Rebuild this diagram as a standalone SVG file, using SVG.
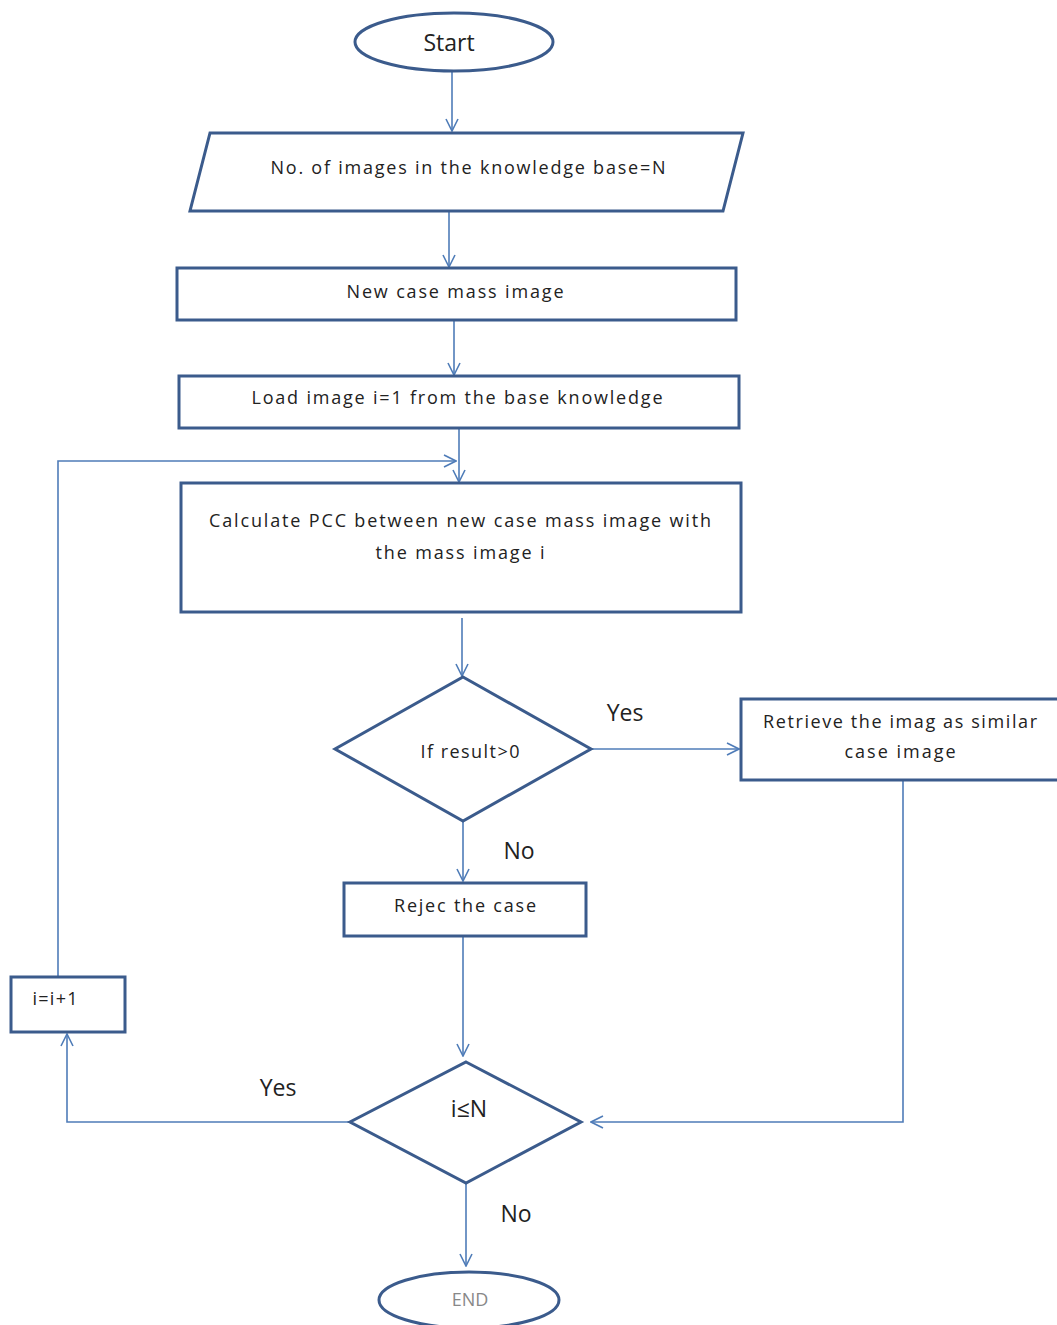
<svg xmlns="http://www.w3.org/2000/svg" width="1057" height="1325" viewBox="0 0 1057 1325">
<defs>
<style>
.shape{fill:#fff;stroke:#3b5b8c;stroke-width:3}
.conn{fill:none;stroke:#4f7cb8;stroke-width:1.6}
.t{font-family:"Open Sans","Liberation Sans",sans-serif;font-size:18px;fill:#222;text-anchor:middle}
.lbl{font-family:"Open Sans","Liberation Sans",sans-serif;font-size:23px;fill:#222;text-anchor:middle}
</style>
<marker id="arr" viewBox="0 0 14 14" refX="13" refY="7" markerWidth="14" markerHeight="14" markerUnits="userSpaceOnUse" orient="auto">
<path d="M1,1 L13,7 L1,13" fill="none" stroke="#4f7cb8" stroke-width="1.6"/>
</marker>
</defs>
<rect width="1057" height="1325" fill="#fff"/>
<g id="connectors">
<line class="conn" x1="452" y1="72" x2="452" y2="131" marker-end="url(#arr)"/>
<line class="conn" x1="449" y1="212" x2="449" y2="267" marker-end="url(#arr)"/>
<line class="conn" x1="454" y1="321" x2="454" y2="375" marker-end="url(#arr)"/>
<line class="conn" x1="459" y1="429" x2="459" y2="482" marker-end="url(#arr)"/>
<polyline class="conn" points="58,977 58,461 456,461" marker-end="url(#arr)"/>
<line class="conn" x1="462" y1="618" x2="462" y2="676" marker-end="url(#arr)"/>
<line class="conn" x1="591" y1="749" x2="739" y2="749" marker-end="url(#arr)"/>
<polyline class="conn" points="903,781 903,1122 591,1122" marker-end="url(#arr)"/>
<line class="conn" x1="463" y1="822" x2="463" y2="881" marker-end="url(#arr)"/>
<line class="conn" x1="463" y1="937" x2="463" y2="1056" marker-end="url(#arr)"/>
<polyline class="conn" points="350,1122 67,1122 67,1034" marker-end="url(#arr)"/>
<line class="conn" x1="466" y1="1184" x2="466" y2="1266" marker-end="url(#arr)"/>
</g>
<g id="start">
<ellipse class="shape" cx="454" cy="42" rx="99" ry="29"/>
<text class="lbl" x="449" y="51">Start</text>
</g>
<g id="input">
<polygon class="shape" points="210,133 743,133 723,211 190,211"/>
<text class="t" x="468" y="174" textLength="395" lengthAdjust="spacing">No. of images in the  knowledge base=N</text>
</g>
<g id="newcase">
<rect class="shape" x="177" y="268" width="559" height="52"/>
<text class="t" x="455" y="298" textLength="217" lengthAdjust="spacing">New case mass image</text>
</g>
<g id="load">
<rect class="shape" x="179" y="376" width="560" height="52"/>
<text class="t" x="457" y="404" textLength="411" lengthAdjust="spacing">Load image i=1 from the base knowledge</text>
</g>
<g id="calc">
<rect class="shape" x="181" y="483" width="560" height="129"/>
<text class="t" x="460" y="527" textLength="502" lengthAdjust="spacing">Calculate  PCC  between  new case mass image  with</text>
<text class="t" x="460" y="559" textLength="169" lengthAdjust="spacing">the mass image i</text>
</g>
<g id="decision1">
<polygon class="shape" points="463,677 591,749 463,821 335,749"/>
<text class="t" x="470" y="758" textLength="99" lengthAdjust="spacing">If result&gt;0</text>
</g>
<g id="retrieve">
<rect class="shape" x="741" y="699" width="320" height="81"/>
<text class="t" x="900" y="728" textLength="274" lengthAdjust="spacing">Retrieve the imag as similar</text>
<text class="t" x="900" y="758" textLength="111" lengthAdjust="spacing">case image</text>
</g>
<g id="reject">
<rect class="shape" x="344" y="883" width="242" height="53"/>
<text class="t" x="465" y="912" textLength="142" lengthAdjust="spacing">Rejec  the case</text>
</g>
<g id="decision2">
<polygon class="shape" points="466,1062 581,1122 466,1183 350,1122"/>
<text class="lbl" x="469" y="1117">i≤N</text>
</g>
<g id="incr">
<rect class="shape" x="11" y="977" width="114" height="55"/>
<text class="t" x="55" y="1005" textLength="45" lengthAdjust="spacing">i=i+1</text>
</g>
<g id="end">
<ellipse class="shape" cx="469" cy="1300" rx="90" ry="28"/>
<text class="t" x="470" y="1306" style="fill:#888">END</text>
</g>
<g id="labels">
<text class="lbl" x="625" y="721">Yes</text>
<text class="lbl" x="519" y="859">No</text>
<text class="lbl" x="278" y="1096">Yes</text>
<text class="lbl" x="516" y="1222">No</text>
</g>
</svg>
